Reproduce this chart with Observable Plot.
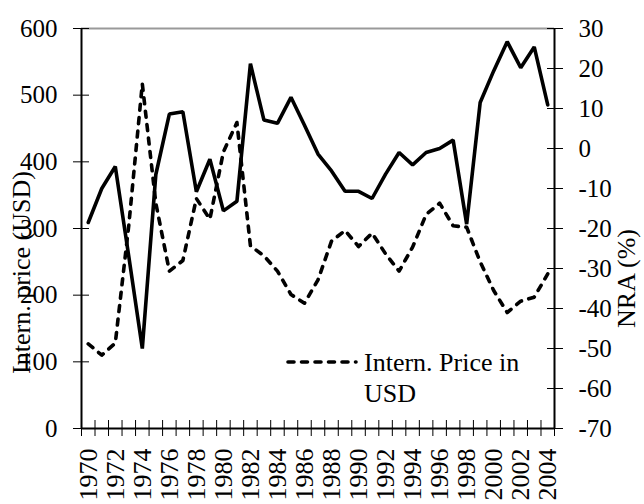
<!DOCTYPE html>
<html><head><meta charset="utf-8">
<script src="https://cdn.jsdelivr.net/npm/d3@7"></script>
<script src="https://cdn.jsdelivr.net/npm/@observablehq/plot@0.6"></script>
<style>
body{margin:0;background:#fff;}
#wrap{position:relative;width:644px;height:504px;background:#fff;overflow:hidden;}
#legend{position:absolute;left:0;top:0;pointer-events:none;}
</style></head><body><div id="wrap"></div>
<script>
const years = [1970,1971,1972,1973,1974,1975,1976,1977,1978,1979,1980,1981,1982,1983,1984,1985,1986,1987,1988,1989,1990,1991,1992,1993,1994,1995,1996,1997,1998,1999,2000,2001,2002,2003,2004];
// NRA (%) – solid line, right axis
const nra = [-18.5,-10,-4.5,-27,-50,-6.5,8.6,9.2,-10.8,-2.7,-15.6,-13.2,21.2,7.1,6.3,12.8,5.8,-1.4,-5.6,-10.7,-10.7,-12.5,-6.4,-1,-4.1,-1,0,2.1,-18.9,11.5,19.4,26.7,20.2,25.4,10.9];
// International price in USD – dashed line, left axis
const price = [127,110,128,305,517,338,236,252,345,314,415,459,274,259,236,201,188,223,281,297,273,293,262,236,272,321,338,304,302,250,207,174,191,197,232];
const priceTicks = [0,100,200,300,400,500,600];
const nraTicks = [-70,-60,-50,-40,-30,-20,-10,0,10,20,30];
const yearLabels = [1970,1972,1974,1976,1978,1980,1982,1984,1986,1988,1990,1992,1994,1996,1998,2000,2002,2004];
const leftTitle = "Intern. price (USD)";
const rightTitle = "NRA (%)";
const legendLabel = ["Intern. Price in", "USD"];

const priceDomain = [0, 600];
const nraDomain = [-70, 30];
const toLeft = v => (v - nraDomain[0]) * (priceDomain[1] - priceDomain[0]) / (nraDomain[1] - nraDomain[0]);
const fromLeft = d => d * (nraDomain[1] - nraDomain[0]) / (priceDomain[1] - priceDomain[0]) + nraDomain[0];

const table = years.map((y, i) => ({year: y, nra: nra[i], price: price[i]}));
const bounds = years.map(y => y - 0.5).concat([years[years.length - 1] + 0.5]);

const font = "'Liberation Serif', 'Times New Roman', serif";
const dash = "6,7.5";
const lw = 3.6;

const chart = Plot.plot({
  width: 644, height: 504,
  marginLeft: 81, marginRight: 90, marginTop: 28, marginBottom: 76,
  x: {type: "linear", domain: [bounds[0], bounds[bounds.length - 1]]},
  y: {domain: priceDomain},
  style: {fontFamily: font, fontSize: "25px", color: "black", background: "white", overflow: "visible"},
  marks: [
    Plot.ruleY([priceDomain[1]], {stroke: "#999", strokeWidth: 2}),
    Plot.lineY(table, {x: "year", y: d => toLeft(d.nra), stroke: "black", strokeWidth: lw, strokeLinejoin: "miter"}),
    Plot.lineY(table, {x: "year", y: "price", stroke: "black", strokeWidth: lw, strokeDasharray: dash, strokeLinecap: "round"}),
    Plot.ruleX([bounds[0], bounds[bounds.length - 1]], {stroke: "black", strokeWidth: 2}),
    Plot.ruleY([priceDomain[0]], {stroke: "black", strokeWidth: 2}),
    // crossing tick marks
    Plot.axisY({anchor: "left", ticks: priceTicks, tickSize: 16, dx: 8, tickFormat: () => "", label: null, stroke: "black"}),
    Plot.axisY({anchor: "right", ticks: nraTicks.map(toLeft), tickSize: 16, dx: -8, tickFormat: () => "", label: null, stroke: "black"}),
    Plot.axisX({anchor: "bottom", ticks: bounds, tickSize: 16, dy: -8, tickFormat: () => "", label: null, stroke: "black"}),
    // tick labels
    Plot.axisY({anchor: "left", ticks: priceTicks, tickSize: 0, tickPadding: 24, label: null, fontSize: 25, fill: "black"}),
    Plot.axisY({anchor: "right", ticks: nraTicks.map(toLeft), tickSize: 0, tickPadding: 24, label: null, fontSize: 25, fill: "black",
      tickFormat: d => String(Math.round(fromLeft(d)))}),
    Plot.axisX({anchor: "bottom", ticks: yearLabels, tickSize: 0, tickPadding: 20, tickRotate: -90, tickFormat: d => String(d), label: null, fontSize: 26, fill: "black"}),
    // axis titles
    Plot.text([leftTitle], {frameAnchor: "left", rotate: -90, dx: -60, dy: 44, fontSize: 26, fill: "black", textAnchor: "middle", lineAnchor: "middle"}),
    Plot.text([rightTitle], {frameAnchor: "right", rotate: -90, dx: 72, dy: 50, fontSize: 26, fill: "black", textAnchor: "middle", lineAnchor: "middle"})
  ]
});

const wrap = document.getElementById("wrap");
wrap.appendChild(chart);

// legend overlay
const ns = "http://www.w3.org/2000/svg";
const lg = document.createElementNS(ns, "svg");
lg.setAttribute("id", "legend");
lg.setAttribute("width", 644);
lg.setAttribute("height", 504);
const ln = document.createElementNS(ns, "line");
ln.setAttribute("x1", 288); ln.setAttribute("x2", 356);
ln.setAttribute("y1", 362); ln.setAttribute("y2", 362);
ln.setAttribute("stroke", "black"); ln.setAttribute("stroke-width", lw);
ln.setAttribute("stroke-dasharray", dash); ln.setAttribute("stroke-linecap", "round");
lg.appendChild(ln);
legendLabel.forEach((t, i) => {
  const tx = document.createElementNS(ns, "text");
  tx.setAttribute("x", 364);
  tx.setAttribute("y", 371 + i * 31);
  tx.setAttribute("font-family", font);
  tx.setAttribute("font-size", 26);
  tx.setAttribute("fill", "black");
  tx.textContent = t;
  lg.appendChild(tx);
});
wrap.appendChild(lg);
</script></body></html>
